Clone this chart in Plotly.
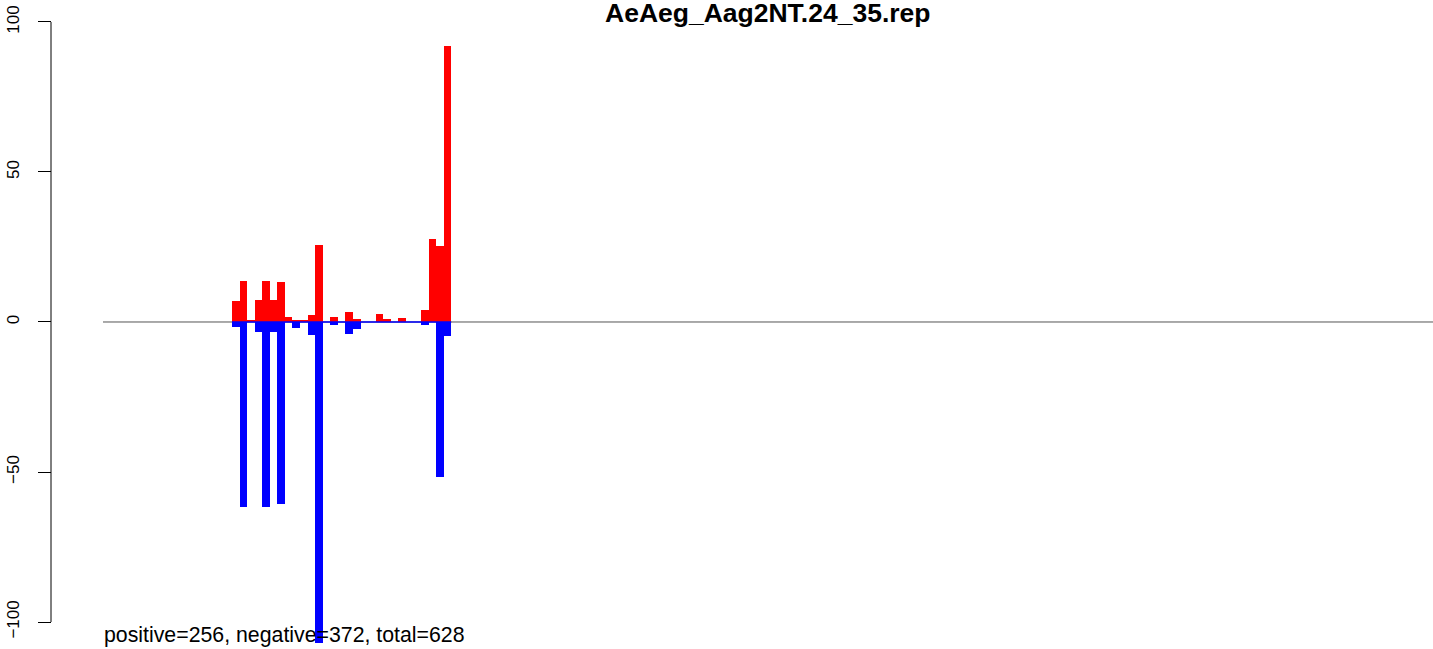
import plotly.graph_objects as go

# data
positions = list(range(1, 30))
positive_values = [7, 13.67, 0.44, 7.33, 13.67, 7.33, 13.33, 1.67, 0.78, 0.44,
                   2.33, 25.67, 0, 1.67, 0, 3.33, 1, 0, 0, 2.67,
                   1, 0, 1.33, 0, 0, 4, 27.67, 25.33, 92]
negative_values = [-1.67, -61.67, 0, -3.33, -61.67, -3.33, -60.67, 0, -2, 0,
                   -4.33, -107, 0, -1, 0, -4, -2.33, 0, 0, 0,
                   0, 0, 0, 0, 0, -1, 0, -51.67, -4.67]
y_ticks = [-100, -50, 0, 50, 100]
title_text = "AeAeg_Aag2NT.24_35.rep"
summary_text = "positive=256, negative=372, total=628"

W, H = 1433, 649
FONT = "Liberation Sans, Arial, Helvetica, sans-serif"

fig = go.Figure()
fig.add_trace(go.Bar(x=positions, y=positive_values, width=1, marker=dict(color="#ff0000", line=dict(width=0)),
                     showlegend=False, hoverinfo="skip"))
fig.add_trace(go.Bar(x=positions, y=negative_values, width=1, marker=dict(color="#0000ff", line=dict(width=0)),
                     showlegend=False, hoverinfo="skip"))
# blue baseline under the bars
fig.add_trace(go.Scatter(x=[positions[0] - 0.5, positions[-1] + 0.5], y=[0, 0], mode="lines",
                         line=dict(color="#0000ff", width=1.5), showlegend=False, hoverinfo="skip"))

left_px = 51
dom0 = (103 - left_px) / (W - left_px)

fig.update_layout(
    width=W, height=H,
    margin=dict(l=left_px, r=0, t=0, b=0),
    paper_bgcolor="white", plot_bgcolor="white",
    barmode="overlay", bargap=0,
    font=dict(family=FONT, size=17, color="black"),
    xaxis=dict(domain=[dom0, 1], range=[-16.56, 159.36], visible=False, fixedrange=True),
    yaxis=dict(range=[-109, 107.33], anchor="free", position=0, showgrid=False, zeroline=False,
               showline=False, tickmode="array", tickvals=y_ticks,
               ticktext=[str(v).replace("-", "\u2212") for v in y_ticks],
               ticks="outside", ticklen=13, tickwidth=1, tickcolor="black",
               tickangle=-90, tickfont=dict(family=FONT, size=17, color="black"),
               ticklabelstandoff=12, fixedrange=True),
    shapes=[
        dict(type="line", xref="x domain", yref="y", x0=0, x1=1, y0=0, y1=0,
             line=dict(color="#555555", width=1), layer="below"),
        dict(type="line", xref="paper", yref="y", x0=0, x1=0, y0=y_ticks[0], y1=y_ticks[-1],
             line=dict(color="black", width=1)),
    ],
    annotations=[
        dict(text="<b>" + title_text + "</b>", xref="x domain", yref="paper", x=0.5, y=1,
             xanchor="center", yanchor="top", showarrow=False, yshift=4,
             font=dict(family=FONT, size=26.5, color="black")),
        dict(text=summary_text, xref="x domain", yref="paper", x=0, y=0,
             xanchor="left", yanchor="bottom", showarrow=False, yshift=0, xshift=-1,
             font=dict(family=FONT, size=21.3, color="black")),
    ],
)

fig.write_html("out.html", config={"displayModeBar": False},
               post_script="document.body.style.margin='0px';")
